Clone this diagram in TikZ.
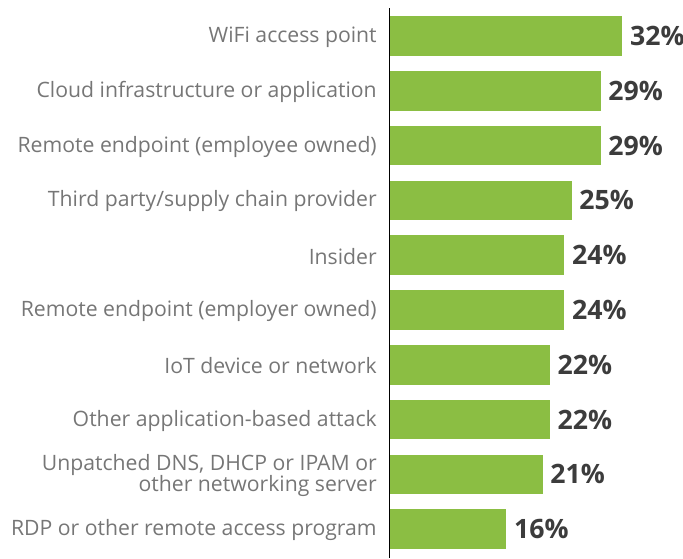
\documentclass[tikz,border=0pt]{standalone}
\usepackage{fontspec}
\setmainfont{Open Sans}
\usetikzlibrary{positioning}
\definecolor{barGreen}{HTML}{8BBE43}
\definecolor{labGray}{HTML}{767676}
\definecolor{pctGray}{HTML}{3C3C3C}
\tikzset{
	bar/.style={rectangle, fill=barGreen, inner sep=0pt, minimum height=29.6pt, anchor=west},
	lab/.style={anchor=east, inner sep=0pt, text=labGray, align=right, font=\fontsize{15.9}{16}\selectfont},
	pct/.style={inner sep=0pt, text=pctGray, font=\bfseries\fontsize{20}{24}\selectfont, node distance=5.5pt},
	axis/.style={draw=black, line width=0.9pt}
}
\begin{document}
\begin{tikzpicture}[x=0.75pt, y=-0.75pt]
\useasboundingbox (0,0) rectangle (683,558);
\coordinate (AxTop) at (389.5,8);
\coordinate (AxBot) at (389.5,558);
\foreach \i/\v/\t in {1/32/{WiFi access point},
	2/29/{Cloud infrastructure or application},
	3/29/{Remote endpoint (employee owned)},
	4/25/{Third party/supply chain provider},
	5/24/{Insider},
	6/24/{Remote endpoint (employer owned)},
	7/22/{IoT device or network},
	8/22/{Other application-based attack},
	9/21/{Unpatched DNS, DHCP or IPAM or\\other networking server},
	10/16/{RDP or other remote access program}}
{
	\node[bar, minimum width=\v*5.4375pt] (B\i) at (390, 36+\i*54.8-54.8) {};
	\node[lab] (L\i) at (377, 37+\i*54.8-54.8) {\t};
	\node[pct, right=of B\i] (P\i) {\v\%};
}
\draw[axis] (AxTop) -- (AxBot);
\end{tikzpicture}
\end{document}
